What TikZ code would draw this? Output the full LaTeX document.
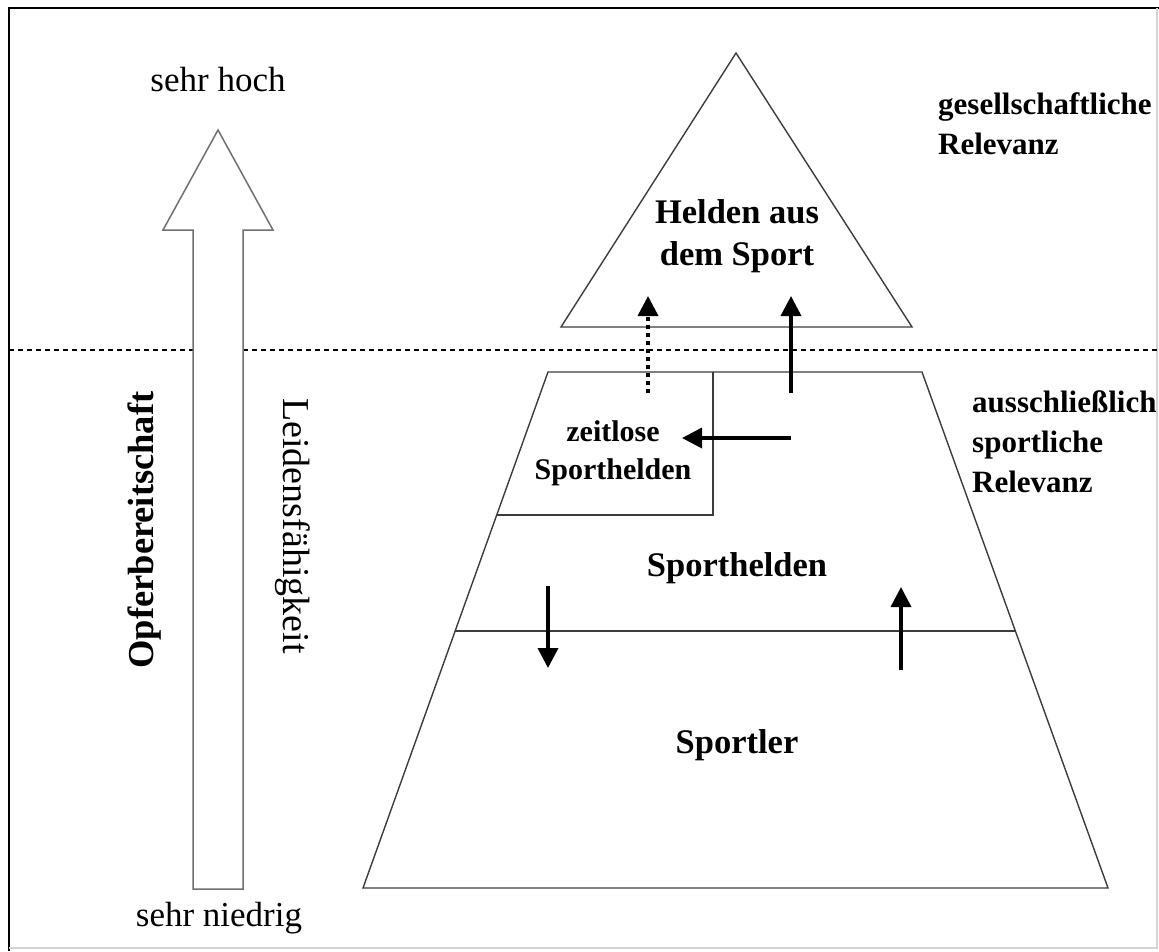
\documentclass[tikz,border=0pt]{standalone}
\usepackage{fontspec}
\setmainfont{Liberation Serif}
\usetikzlibrary{positioning, arrows.meta}
\definecolor{lineGray}{HTML}{3C3C3C}
\definecolor{arrowGray}{HTML}{707070}
\definecolor{frameGray}{HTML}{D4D4D4}

\begin{document}
\begin{tikzpicture}[x=1pt, y=-1pt,
    level/.style={draw=lineGray, line width=1.4pt},
    label/.style={font=\fontsize{34.5}{42}\selectfont\bfseries, align=center, inner sep=0pt},
    side/.style={font=\fontsize{31}{40}\selectfont\bfseries, align=left, anchor=north west, inner sep=0pt},
    axislabel/.style={font=\fontsize{35}{40}\selectfont, inner sep=0pt},
    flow/.style={line width=3.5pt, -{Triangle[length=20pt,width=20pt]}},
  ]
  \useasboundingbox (0,0) rectangle (1159,951);
  \draw[black, line width=1.5pt] (9,951) -- (9,8) -- (1159,8);
  \draw[frameGray, line width=1.5pt] (9,948) -- (1157,948) -- (1157,8);
  \draw[dash pattern=on 5pt off 4pt, line width=1.2pt] (9,350) -- (1159,350);

  % scale arrow
  \draw[arrowGray, line width=1.5pt, fill=white] (193,889) -- (193,230) -- (163,230) -- (218,130)
    -- (273,230) -- (243,230) -- (243,889) -- cycle;
  \node[axislabel] (hoch) at (218,80) {sehr hoch};
  \node[axislabel] (niedrig) at (219,918) {sehr niedrig};
  \node[axislabel, font=\fontsize{36.5}{40}\selectfont\bfseries, rotate=90] (opfer) at (145,530) {Opferbereitschaft};
  \node[axislabel, font=\fontsize{38}{40}\selectfont, rotate=-90] (leiden) at (293,526) {Leidensfähigkeit};

  % pyramid
  \draw[level] (736,53) -- (912,327) -- (561,327) -- cycle;
  \draw[level] (548,372) -- (922,372) -- (1108,888) -- (363,888) -- cycle;
  \draw[level] (455,631) -- (1015,631);
  \draw[level] (713,372) -- (713,515) -- (497,515);

  \node[label] (helden) at (737,236) {Helden aus\\dem Sport};
  \node[label, font=\fontsize{30}{38}\selectfont\bfseries] (zeitlos) at (613,453) {zeitlose\\Sporthelden};
  \node[label] (sporthelden) at (737,568) {Sporthelden};
  \node[label] (sportler) at (737,745) {Sportler};

  \node[side] (gesell) at (938,92) {gesellschaftliche\\Relevanz};
  \node[side] (sportlich) at (972,390) {ausschließlich\\sportliche\\Relevanz};

  % transitions
  \coordinate (dotFrom) at (648,393);
  \coordinate (dotTo) at (648,296);
  \coordinate (upFrom) at (791,393);
  \coordinate (upTo) at (791,296);
  \coordinate (leftFrom) at (791,438);
  \coordinate (leftTo) at (682,438);
  \coordinate (downFrom) at (548,586);
  \coordinate (downTo) at (548,668);
  \coordinate (riseFrom) at (901,670);
  \coordinate (riseTo) at (901,587);
  \draw[flow, dash pattern=on 4pt off 4pt] (dotFrom) -- (dotTo);
  \draw[flow] (upFrom) -- (upTo);
  \draw[flow] (leftFrom) -- (leftTo);
  \draw[flow] (downFrom) -- (downTo);
  \draw[flow] (riseFrom) -- (riseTo);
\end{tikzpicture}
\end{document}
